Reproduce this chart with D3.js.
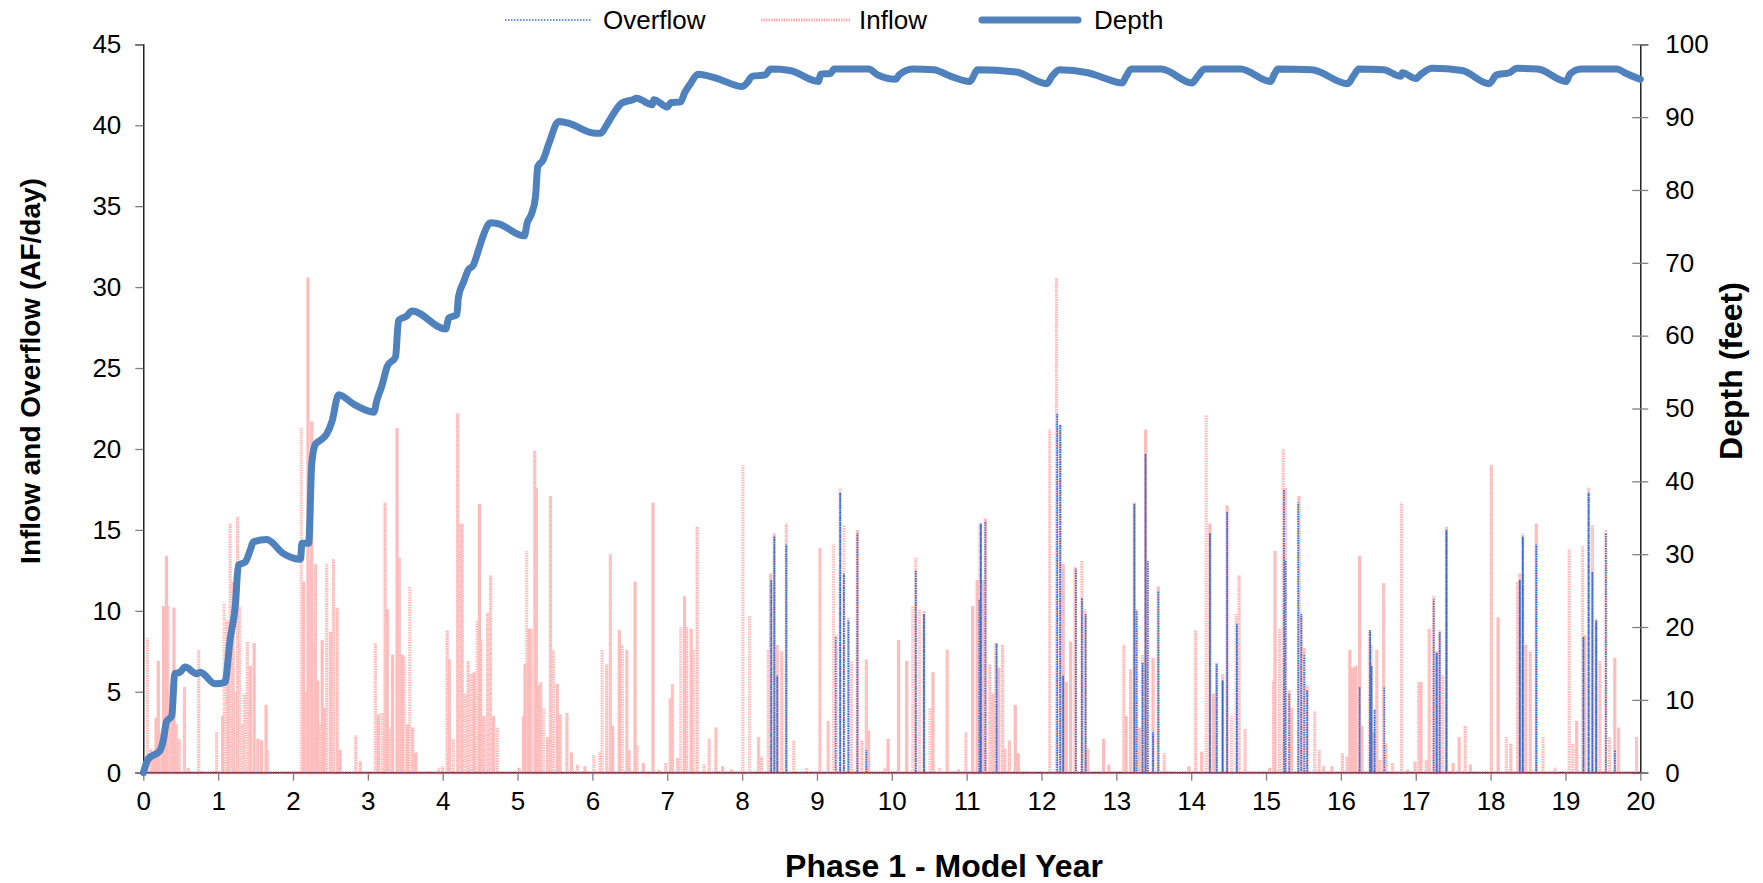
<!DOCTYPE html>
<html>
<head>
<meta charset="utf-8">
<script src="https://cdn.jsdelivr.net/npm/d3@7"></script>
<style>
  body { margin: 0; background: #fff; }
  svg { display: block; font-family: "Liberation Sans", Arial, sans-serif; }
</style>
</head>
<body>
<div id="chart"></div>
<script>
// chart size
var width = 1763,
	height = 883;

// plot area (window.top is taken, so plot* names)
var plotLeft = 143.3, plotRight = 1640.3, plotTop = 44.3, plotBottom = 772.7;

// ticks
var yearTicks = d3.range(0, 21, 1);
var flowTicks = [0, 5, 10, 15, 20, 25, 30, 35, 40, 45];
var depthTicks = [0, 10, 20, 30, 40, 50, 60, 70, 80, 90, 100];

// depth (feet), [model year, depth]
var depth = [
	[0,0],[0.067,1.9],[0.22,3.0],[0.27,4.6],[0.31,7.0],[0.38,7.8],[0.42,13.6],[0.49,13.8],[0.56,14.5],
	[0.71,13.6],[0.76,13.8],[0.96,12.2],[1.09,12.4],[1.16,18.3],[1.23,23.0],[1.27,28.5],[1.36,28.9],
	[1.43,30.6],[1.47,31.7],[1.65,32.0],[1.87,30.1],[2.10,29.3],[2.12,31.5],[2.21,31.5],[2.25,42.4],
	[2.30,45.1],[2.36,45.6],[2.45,46.5],[2.52,48.2],[2.61,51.9],[2.81,50.6],[3.08,49.5],[3.12,51.1],
	[3.19,53.2],[3.26,55.8],[3.37,57.1],[3.41,62.1],[3.52,62.7],[3.59,63.4],[4.04,60.9],[4.08,62.4],
	[4.19,62.9],[4.21,65.3],[4.28,67.4],[4.34,69.0],[4.41,69.7],[4.48,71.8],[4.53,73.4],[4.64,75.5],
	[4.73,75.4],[5.09,73.7],[5.13,75.5],[5.19,76.8],[5.24,79.1],[5.27,83.2],[5.34,84.1],[5.42,86.4],
	[5.55,89.4],[5.67,89.2],[6.03,87.8],[6.11,87.8],[6.19,88.9],[6.26,90.1],[6.39,91.9],[6.54,92.4],
	[6.59,92.6],[6.80,91.7],[6.82,92.4],[7.00,91.4],[7.05,92.0],[7.18,92.1],[7.23,93.3],[7.31,94.6],
	[7.41,95.9],[7.67,95.3],[8.00,94.2],[8.08,94.9],[8.13,95.6],[8.31,95.8],[8.38,96.6],[8.64,96.4],
	[9.02,94.9],[9.05,95.9],[9.18,96.0],[9.23,96.6],[9.69,96.6],[9.81,95.8],[10.05,95.2],[10.10,95.8],
	[10.28,96.6],[10.56,96.5],[10.79,95.6],[11.04,94.9],[11.15,96.5],[11.66,96.2],[12.07,94.6],
	[12.14,95.6],[12.24,96.5],[12.62,96.1],[12.80,95.5],[13.08,94.7],[13.13,95.6],[13.20,96.6],
	[13.60,96.6],[14.01,94.7],[14.08,95.5],[14.18,96.6],[14.66,96.6],[15.06,94.9],[15.11,95.9],
	[15.16,96.6],[15.61,96.5],[16.09,94.6],[16.17,95.7],[16.24,96.6],[16.57,96.5],[16.80,95.6],
	[16.82,96.1],[17.00,95.3],[17.07,95.9],[17.22,96.7],[17.62,96.4],[17.98,94.6],[18.08,95.8],
	[18.25,96.1],[18.35,96.7],[18.63,96.6],[19.01,94.9],[19.06,95.9],[19.21,96.6],[19.69,96.6],
	[19.79,96.1],[20.0,95.2]
];

// inflow spikes (AF/day), first ten years
var inflowA = [
	[0.054,8.3],[0.10,1.5],[0.13,1.2],[0.17,3.4],[0.20,6.9],[0.24,2.5],[0.27,10.3],[0.31,13.4],[0.33,10.3],
	[0.37,4.0],[0.41,10.2],[0.44,3.0],[0.48,2.1],[0.55,5.3],[0.60,0.3],[0.74,7.6],[0.98,2.5],[1.06,3.5],
	[1.08,10.5],[1.12,9.4],[1.14,6.0],[1.16,15.4],[1.20,11.8],[1.23,5.0],[1.26,15.8],[1.29,10.3],[1.32,3.0],
	[1.35,4.9],[1.39,8.1],[1.43,6.6],[1.48,8.0],[1.53,2.1],[1.58,2.0],[1.64,4.2],[1.66,1.4],
	[2.11,21.3],[2.14,11.8],[2.17,5.0],[2.20,30.6],[2.23,13.0],[2.25,21.7],[2.28,8.0],[2.30,12.9],[2.33,5.7],
	[2.36,3.0],[2.39,8.2],[2.42,4.0],[2.45,12.9],[2.50,8.7],[2.54,13.2],[2.59,10.2],[2.63,1.4],[2.84,2.3],
	[2.90,0.7],[3.10,8.0],[3.14,3.6],[3.19,3.7],[3.23,16.7],[3.26,10.1],[3.30,2.8],[3.33,7.3],[3.39,21.3],
	[3.42,13.3],[3.46,7.3],[3.49,7.2],[3.53,3.0],[3.56,11.5],[3.60,2.8],[3.64,1.25],[3.95,0.3],[4.0,0.4],
	[4.06,8.8],[4.09,7.0],[4.14,2.1],[4.20,22.2],[4.23,15.4],[4.26,15.4],[4.30,4.9],[4.34,6.9],[4.38,6.1],
	[4.42,6.2],[4.46,9.4],[4.49,16.6],[4.51,8.2],[4.55,3.5],[4.60,9.9],[4.64,12.2],[4.68,3.5],[4.73,2.8],
	[5.02,0.3],[5.08,3.5],[5.10,6.7],[5.12,13.7],[5.15,8.9],[5.18,8.9],[5.23,19.9],[5.25,17.6],[5.27,5.4],
	[5.31,5.6],[5.35,4.0],[5.40,2.2],[5.44,17.1],[5.48,7.6],[5.53,5.5],[5.57,3.6],[5.66,3.7],[5.72,1.25],
	[5.80,0.5],[5.90,0.4],[6.02,1.1],[6.10,1.3],[6.13,7.6],[6.19,6.7],[6.24,13.5],[6.27,2.9],[6.36,8.8],
	[6.40,7.9],[6.46,7.6],[6.49,1.4],[6.57,11.8],[6.60,1.7],[6.68,0.6],[6.81,16.7],[6.89,0.2],[6.98,0.6],
	[7.04,4.6],[7.07,5.5],[7.14,0.9],[7.18,9.0],[7.23,10.9],[7.26,9.0],[7.32,8.9],[7.35,7.6],[7.40,15.2],
	[7.49,0.5],[7.56,2.1],[7.65,2.8],[7.74,0.4],[7.86,0.2],[8.01,19.0],[8.10,9.7],[8.22,2.2],[8.26,1.0],
	[8.35,7.6],[8.38,12.3],[8.43,14.8],[8.47,7.9],[8.53,7.5],[8.59,15.4],[8.69,2.0],[8.86,0.3],
	[9.04,13.9],[9.15,3.2],[9.22,14.1],[9.26,8.5],[9.31,17.6],[9.36,15.3],[9.42,9.6],[9.46,6.9],[9.54,15.0],
	[9.60,2.0],[9.66,7.0],[9.69,2.6],[9.91,0.3],[9.95,2.1]
];

// inflow spikes (AF/day), second ten years
var inflowB = [
	[10.09,8.2],[10.20,6.9],[10.28,10.3],[10.32,13.3],[10.37,10.1],[10.43,10.0],[10.51,4.0],[10.55,6.2],
	[10.64,0.3],[10.74,7.6],[10.89,0.2],[10.99,2.5],[11.08,10.3],[11.14,11.9],[11.18,15.4],[11.21,11.9],
	[11.25,15.7],[11.31,6.7],[11.35,4.9],[11.39,8.0],[11.43,6.5],[11.48,7.9],[11.51,1.5],[11.57,2.0],
	[11.65,4.2],[11.69,1.2],[12.11,21.2],[12.20,30.6],[12.25,21.5],[12.29,12.9],[12.33,5.6],[12.39,8.1],
	[12.45,12.7],[12.54,13.1],[12.58,10.1],[12.62,1.5],[12.83,2.1],[12.90,0.5],[13.10,7.9],[13.13,3.5],
	[13.19,6.4],[13.24,16.7],[13.27,10.1],[13.31,2.8],[13.35,7.3],[13.39,21.2],[13.42,13.0],[13.49,7.1],
	[13.56,11.5],[13.64,1.2],[13.97,0.4],[14.06,8.8],[14.14,1.3],[14.20,22.1],[14.25,15.4],[14.30,4.9],
	[14.34,6.8],[14.42,6.1],[14.48,16.5],[14.54,3.5],[14.60,9.8],[14.64,12.2],[14.72,2.7],[15.05,0.3],
	[15.10,5.7],[15.12,13.7],[15.18,8.9],[15.23,20.0],[15.26,17.6],[15.31,5.1],[15.34,4.0],[15.44,17.1],
	[15.47,9.8],[15.51,7.7],[15.55,5.4],[15.65,3.8],[15.71,1.4],[15.77,0.4],[15.88,0.4],[16.02,1.2],
	[16.08,1.0],[16.12,7.6],[16.16,6.5],[16.20,6.6],[16.25,13.4],[16.28,2.9],[16.38,8.8],[16.40,7.9],
	[16.44,2.5],[16.48,7.6],[16.52,0.8],[16.57,11.7],[16.60,1.8],[16.69,0.6],[16.81,16.7],[16.89,0.2],
	[16.99,0.7],[17.04,5.6],[17.07,5.6],[17.14,0.8],[17.18,8.9],[17.24,10.9],[17.28,7.5],[17.32,8.8],
	[17.36,6.0],[17.41,15.2],[17.50,0.6],[17.58,2.2],[17.66,2.9],[17.73,0.5],[18.01,19.0],[18.10,9.6],
	[18.21,2.2],[18.27,1.8],[18.36,11.8],[18.39,12.3],[18.43,14.8],[18.47,7.9],[18.53,7.5],[18.61,15.4],
	[18.70,2.2],[18.86,0.3],[19.05,13.8],[19.10,1.8],[19.15,3.2],[19.23,14.0],[19.26,8.5],[19.31,17.6],
	[19.36,15.3],[19.41,9.5],[19.46,6.9],[19.54,15.0],[19.59,2.2],[19.66,7.1],[19.71,2.8],[19.95,2.2]
];

// overflow spikes (AF/day)
var overflow = [
	[8.39,11.9],[8.43,14.6],[8.47,6.0],[8.59,14.1],[9.25,8.4],[9.31,17.3],[9.36,12.3],[9.42,9.4],[9.54,14.8],
	[9.66,1.4],[10.32,12.5],[10.43,9.8],[11.17,10.7],[11.19,15.4],[11.25,15.5],[11.40,8.0],[12.21,22.2],
	[12.25,21.5],[12.29,6.0],[12.46,12.6],[12.54,10.8],[12.59,9.8],[13.24,16.6],[13.27,10.0],[13.35,6.8],
	[13.39,19.7],[13.42,13.1],[13.49,2.5],[13.56,11.2],[14.25,14.8],[14.34,6.7],[14.42,5.7],[14.48,16.1],
	[14.61,9.2],[15.24,17.5],[15.26,13.1],[15.31,4.9],[15.43,16.7],[15.47,9.8],[15.51,7.3],[15.55,5.1],
	[16.25,5.3],[16.39,8.8],[16.41,6.6],[16.45,3.9],[16.58,5.3],[17.24,10.7],[17.28,7.4],[17.32,8.7],
	[17.41,15.0],[18.39,11.9],[18.43,14.6],[18.61,14.1],[19.24,8.4],[19.31,17.3],[19.36,12.4],[19.41,9.4],
	[19.54,14.8],[19.66,1.4]
];

var svg = d3.select('#chart')
	.append('svg')
	.attr('width', width)
	.attr('height', height);

var x = d3.scaleLinear().domain([0, 20]).range([plotLeft, plotRight]);
var yFlow = d3.scaleLinear().domain([0, 45]).range([plotBottom, plotTop]);
var yDepth = d3.scaleLinear().domain([0, 100]).range([plotBottom, plotTop]);

// spikes go up and back down to zero at each reading
function spikePoints(list){
	var pts = [[0, 0]];
	list.forEach(function(d){
		pts.push([d[0], 0], [d[0], d[1]], [d[0], 0]);
	});
	pts.push([20, 0]);
	return pts;
}

var flowLine = d3.line()
	.x(function(d) { return x(d[0]); })
	.y(function(d) { return yFlow(d[1]); });

var depthLine = d3.line()
	.curve(d3.curveMonotoneX)
	.x(function(d) { return x(d[0]); })
	.y(function(d) { return yDepth(d[1]); });

// axes
var gLeft = svg.append('g')
	.attr('transform', 'translate(' + plotLeft + ',0)')
	.call(d3.axisLeft(yFlow).tickValues(flowTicks).tickSize(8).tickPadding(14));

var gRight = svg.append('g')
	.attr('transform', 'translate(' + plotRight + ',0)')
	.call(d3.axisRight(yDepth).tickValues(depthTicks).tickSize(8).tickPadding(17));
gRight.selectAll('.tick line').attr('x1', -8);

var gBottom = svg.append('g')
	.attr('transform', 'translate(0,' + plotBottom + ')')
	.call(d3.axisBottom(x).tickValues(yearTicks).tickSize(8).tickPadding(11));

[gLeft, gRight, gBottom].forEach(function(g){
	g.select('.domain').attr('stroke', '#000').attr('stroke-width', 1.3);
	g.selectAll('.tick line').attr('stroke', '#808080').attr('stroke-width', 1.3);
	g.selectAll('.tick text')
		.attr('fill', '#000')
		.style('font-size', '26px')
		.style('font-family', '"Liberation Sans", Arial, sans-serif');
});
gBottom.select('.domain').attr('d', 'M' + plotLeft + ',0H' + plotRight);

// series
var plot = svg.append('g');

plot.append('path')
	.datum(spikePoints(inflowA.concat(inflowB)))
	.attr('d', flowLine)
	.attr('fill', 'none')
	.attr('stroke', '#ff7a7a')
	.attr('stroke-opacity', 0.5)
	.attr('stroke-width', 3.2)
	.attr('stroke-dasharray', '1.5,1');

plot.append('path')
	.datum(spikePoints(overflow))
	.attr('d', flowLine)
	.attr('fill', 'none')
	.attr('stroke', '#2f6fd6')
	.attr('stroke-width', 1.8)
	.attr('stroke-dasharray', '1.2,1.2');

plot.append('line')
	.attr('x1', plotLeft).attr('x2', plotRight)
	.attr('y1', plotBottom).attr('y2', plotBottom)
	.attr('stroke', '#b03030')
	.attr('stroke-width', 1.5)
	.attr('stroke-dasharray', '2,1');

plot.append('path')
	.datum(depth)
	.attr('d', depthLine)
	.attr('fill', 'none')
	.attr('stroke', '#4f81bd')
	.attr('stroke-width', 7)
	.attr('stroke-linejoin', 'round')
	.attr('stroke-linecap', 'round');

// titles
svg.append('text')
	.attr('transform', 'translate(40,371) rotate(-90)')
	.attr('text-anchor', 'middle')
	.style('font-size', '28px')
	.style('font-weight', 'bold')
	.text('Inflow and Overflow (AF/day)');

svg.append('text')
	.attr('transform', 'translate(1742,371) rotate(-90)')
	.attr('text-anchor', 'middle')
	.style('font-size', '32px')
	.style('font-weight', 'bold')
	.text('Depth (feet)');

svg.append('text')
	.attr('x', 944)
	.attr('y', 877)
	.attr('text-anchor', 'middle')
	.style('font-size', '32px')
	.style('font-weight', 'bold')
	.text('Phase 1 - Model Year');

// legend
var legendItems = [
	{name: 'Overflow', x1: 505, x2: 592, tx: 603, stroke: '#2f6fd6', w: 1.5, dash: '1.5,1.5', op: 1},
	{name: 'Inflow', x1: 761, x2: 850, tx: 859, stroke: '#ff7a7a', w: 3, dash: '1.5,1', op: 0.6},
	{name: 'Depth', x1: 982, x2: 1078, tx: 1094, stroke: '#4f81bd', w: 7, dash: null, op: 1}
];
var legend = svg.append('g');
legendItems.forEach(function(d){
	legend.append('line')
		.attr('x1', d.x1).attr('x2', d.x2)
		.attr('y1', 20).attr('y2', 20)
		.attr('stroke', d.stroke)
		.attr('stroke-width', d.w)
		.attr('stroke-opacity', d.op)
		.attr('stroke-linecap', d.dash ? 'butt' : 'round')
		.attr('stroke-dasharray', d.dash);
	legend.append('text')
		.attr('x', d.tx)
		.attr('y', 29)
		.style('font-size', '26px')
		.text(d.name);
});
</script>
</body>
</html>
